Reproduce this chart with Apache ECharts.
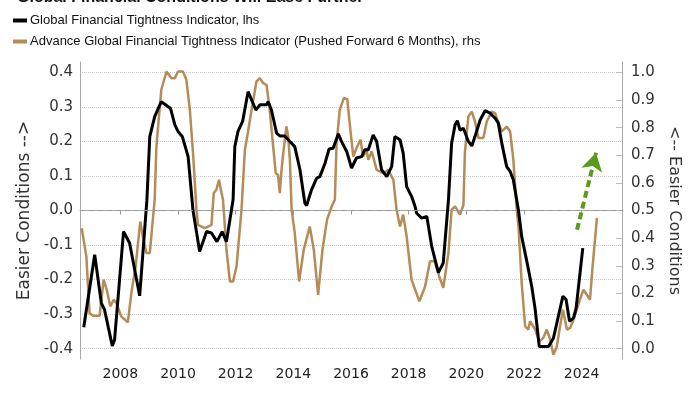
<!DOCTYPE html>
<html><head><meta charset="utf-8">
<script src="https://cdn.jsdelivr.net/npm/echarts@6/dist/echarts.min.js"></script>
<style>html,body{margin:0;padding:0;background:#fff}#c{width:700px;height:394px}</style>
</head><body><div id="c"></div>
<script>
// Global Financial Tightness Indicator (lhs)
const gftiYears = [2006.73,2007.11,2007.34,2007.45,2007.72,2007.80,2008.11,2008.32,2008.67,2008.92,2009.02,2009.19,2009.42,2009.65,2009.74,2009.89,2010.00,2010.15,2010.35,2010.52,2010.75,2010.99,2011.16,2011.35,2011.53,2011.68,2011.91,2011.97,2012.08,2012.24,2012.43,2012.70,2012.84,2013.07,2013.13,2013.24,2013.42,2013.53,2013.70,2013.88,2014.05,2014.23,2014.40,2014.46,2014.63,2014.81,2014.92,2015.10,2015.24,2015.38,2015.56,2015.67,2015.85,2016.02,2016.19,2016.37,2016.48,2016.60,2016.77,2016.89,2017.06,2017.24,2017.41,2017.52,2017.70,2017.81,2017.93,2018.10,2018.22,2018.28,2018.45,2018.63,2018.80,2019.03,2019.20,2019.38,2019.49,2019.61,2019.69,2019.78,2019.90,2020.07,2020.19,2020.30,2020.48,2020.65,2020.82,2021.00,2021.11,2021.23,2021.40,2021.52,2021.63,2021.81,2021.92,2022.10,2022.27,2022.39,2022.53,2022.85,2023.02,2023.35,2023.46,2023.58,2023.72,2023.81,2024.04];
const gftiValues = [-0.338,-0.128,-0.268,-0.287,-0.392,-0.374,-0.061,-0.094,-0.247,0.030,0.214,0.272,0.315,0.301,0.296,0.248,0.229,0.214,0.156,0.000,-0.119,-0.061,-0.065,-0.090,-0.061,-0.090,0.031,0.185,0.229,0.258,0.344,0.291,0.306,0.306,0.315,0.291,0.224,0.216,0.216,0.200,0.185,0.118,0.021,0.014,0.060,0.094,0.098,0.137,0.178,0.180,0.222,0.200,0.171,0.123,0.152,0.156,0.176,0.176,0.219,0.200,0.118,0.098,0.127,0.214,0.205,0.166,0.069,0.041,0.012,-0.008,-0.022,-0.017,-0.104,-0.180,-0.152,0.031,0.195,0.248,0.260,0.233,0.238,0.200,0.187,0.214,0.262,0.289,0.282,0.267,0.253,0.195,0.127,0.113,0.089,0.000,-0.075,-0.148,-0.220,-0.287,-0.394,-0.394,-0.370,-0.248,-0.258,-0.321,-0.311,-0.282,-0.109];

// Advance GFTI, pushed forward 6 months (rhs)
const advYears = [2006.66,2006.82,2006.93,2007.05,2007.28,2007.42,2007.53,2007.65,2007.77,2007.86,2008.03,2008.26,2008.38,2008.53,2008.69,2008.76,2008.90,2009.02,2009.19,2009.25,2009.42,2009.60,2009.77,2009.89,2010.00,2010.17,2010.29,2010.41,2010.52,2010.64,2010.69,2010.93,2011.16,2011.24,2011.33,2011.42,2011.51,2011.56,2011.68,2011.80,2011.91,2012.03,2012.20,2012.32,2012.43,2012.55,2012.72,2012.84,2012.95,2013.07,2013.18,2013.30,2013.39,2013.47,2013.53,2013.59,2013.65,2013.76,2013.82,2013.88,2013.94,2014.05,2014.20,2014.36,2014.57,2014.71,2014.86,2015.01,2015.17,2015.33,2015.44,2015.50,2015.61,2015.75,2015.87,2015.99,2016.08,2016.19,2016.33,2016.42,2016.54,2016.60,2016.72,2016.89,2017.12,2017.29,2017.47,2017.58,2017.70,2017.81,2017.93,2018.10,2018.37,2018.57,2018.74,2018.91,2019.06,2019.20,2019.38,2019.49,2019.61,2019.78,2019.90,2019.95,2020.07,2020.19,2020.30,2020.42,2020.59,2020.71,2020.88,2021.00,2021.08,2021.23,2021.40,2021.52,2021.63,2021.75,2021.81,2021.92,2022.04,2022.15,2022.21,2022.39,2022.53,2022.67,2022.79,2022.91,2023.02,2023.14,2023.25,2023.35,2023.49,2023.60,2023.72,2023.83,2023.94,2024.06,2024.18,2024.29,2024.38,2024.53];
const advValues = [0.436,0.334,0.129,0.119,0.119,0.250,0.213,0.153,0.177,0.165,0.117,0.095,0.201,0.298,0.460,0.418,0.346,0.346,0.539,0.732,0.937,1.003,0.979,0.979,1.003,1.003,0.973,0.864,0.708,0.503,0.448,0.436,0.448,0.563,0.575,0.611,0.563,0.539,0.358,0.243,0.243,0.298,0.500,0.720,0.786,0.864,0.967,0.979,0.961,0.955,0.864,0.732,0.635,0.629,0.563,0.647,0.708,0.804,0.768,0.684,0.503,0.418,0.243,0.358,0.442,0.358,0.195,0.358,0.467,0.515,0.539,0.744,0.864,0.907,0.903,0.780,0.695,0.726,0.756,0.695,0.720,0.684,0.714,0.647,0.635,0.647,0.611,0.503,0.442,0.485,0.406,0.250,0.171,0.225,0.316,0.316,0.261,0.220,0.346,0.503,0.515,0.485,0.520,0.708,0.840,0.858,0.822,0.762,0.762,0.822,0.858,0.852,0.828,0.786,0.804,0.786,0.684,0.503,0.442,0.238,0.081,0.069,0.099,0.069,0.026,0.039,0.069,0.033,-0.022,0.008,0.081,0.141,0.069,0.075,0.105,0.141,0.177,0.213,0.195,0.177,0.298,0.473];

const xTicks = [2008,2010,2012,2014,2016,2018,2020,2022,2024];
const leftTicks = [-0.4,-0.3,-0.2,-0.1,0,0.1,0.2,0.3,0.4];
const rightTicks = [0,0.1,0.2,0.3,0.4,0.5,0.6,0.7,0.8,0.9,1.0];
const arrowStart = [2023.84,-0.056];
const arrowEnd = [2024.5,0.167];

const zip = (a,b) => a.map((x,i)=>[x,b[i]]);
const FONT = "'DejaVu Sans', Verdana, sans-serif";
const LEG = "'Liberation Sans', Arial, sans-serif";

const chart = echarts.init(document.getElementById('c'), null, {renderer:'canvas'});
chart.setOption({
  animation:false,
  backgroundColor:'#fff',
  title:{text:'Global Financial Conditions Will Ease Further', left:12, top:-15,
    textStyle:{fontFamily:LEG, fontSize:16, fontWeight:'bold', color:'#111'}},
  legend:{orient:'vertical', left:8, top:9, itemWidth:14, itemHeight:4, itemGap:8, icon:'rect',
    textStyle:{fontFamily:LEG, fontSize:13, color:'#111', padding:[0,0,0,-2]},
    data:['Global Financial Tightness Indicator, lhs','Advance Global Financial Tightness Indicator (Pushed Forward 6 Months), rhs']},
  grid:{left:80, right:78, top:62, bottom:35},
  xAxis:{type:'value', min:2006.6, max:2025.4,
    axisLine:{lineStyle:{color:'#aaa'}},
    axisTick:{customValues:xTicks, length:4, lineStyle:{color:'#999'}},
    axisLabel:{customValues:xTicks, color:'#222', fontFamily:FONT, fontSize:14, margin:8, formatter:v=>String(v)},
    splitLine:{show:false}},
  yAxis:[
    {type:'value', min:-0.43, max:0.43, position:'left',
      name:'Easier Conditions -->', nameLocation:'middle', nameGap:43,
      nameTextStyle:{fontFamily:FONT, fontSize:17, color:'#333'},
      axisLine:{show:true, lineStyle:{color:'#aaa'}},
      axisTick:{show:false, customValues:leftTicks},
      axisLabel:{customValues:leftTicks, color:'#333', fontFamily:FONT, fontSize:15, margin:7, formatter:v=>v.toFixed(1)},
      splitLine:{show:true, lineStyle:{color:'#c8c8c8', type:'dotted', width:1}}},
    {type:'value', min:-0.0375, max:1.0375, position:'right',
      name:'<-- Easier Conditions', nameLocation:'middle', nameGap:36, nameRotate:-90,
      nameTextStyle:{fontFamily:FONT, fontSize:16, color:'#333'},
      axisLine:{show:true, lineStyle:{color:'#aaa'}},
      axisTick:{show:true, inside:true, length:6, customValues:rightTicks, lineStyle:{color:'#bbb'}},
      axisLabel:{customValues:rightTicks, color:'#333', fontFamily:FONT, fontSize:15, margin:9, formatter:v=>v.toFixed(1)},
      splitLine:{show:false}}
  ],
  series:[
    {name:'Advance Global Financial Tightness Indicator (Pushed Forward 6 Months), rhs', type:'line', yAxisIndex:1,
      data:zip(advYears, advValues), showSymbol:false, clip:false,
      lineStyle:{color:'#b58b57', width:2.5}, itemStyle:{color:'#b58b57'}, z:2},
    {name:'Global Financial Tightness Indicator, lhs', type:'line', yAxisIndex:0,
      data:zip(gftiYears, gftiValues), showSymbol:false, clip:false,
      lineStyle:{color:'#000', width:3}, itemStyle:{color:'#000'}, z:3,
      markLine:{silent:true, symbol:['none','none'], label:{show:false},
        data:[
          {yAxis:0, lineStyle:{color:'#999', type:[5,4], width:1}},
          [{coord:arrowStart, symbol:'none'},{coord:arrowEnd, symbol:'arrow', symbolSize:[16,18]}]
        ],
        lineStyle:{color:'#5a9a1e', width:4, type:[7,4]}}}
  ]
});
</script></body></html>
